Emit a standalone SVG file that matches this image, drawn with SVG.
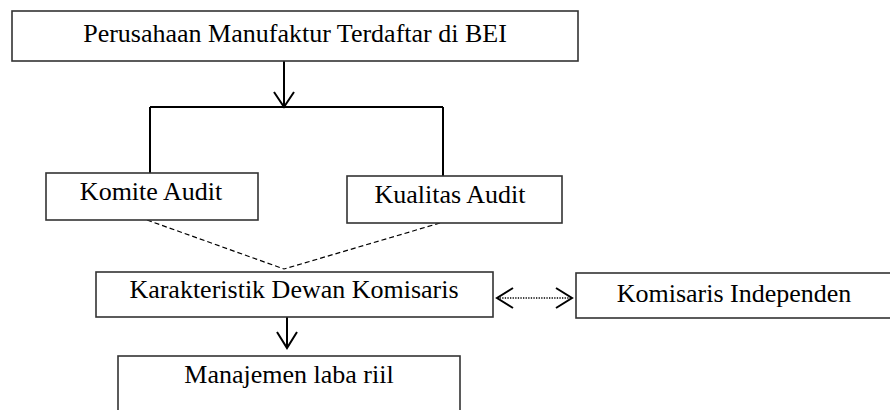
<svg xmlns="http://www.w3.org/2000/svg" width="890" height="410" viewBox="0 0 890 410">
<style>
.box{fill:#fff;stroke:#333;stroke-width:1.6}
.t{font-family:"Liberation Serif","Times New Roman",serif;font-size:26px;fill:#000;text-anchor:middle}
.ln{fill:none;stroke:#000;stroke-width:2}
.dash{fill:none;stroke:#000;stroke-width:1.2;stroke-dasharray:5,3}
.dot{fill:none;stroke:#000;stroke-width:1.3;stroke-dasharray:1.3,1.3}
</style>
<rect width="890" height="410" fill="#fff"/>
<g id="connectors">
<line class="ln" x1="284" y1="61" x2="284" y2="107"/>
<polyline class="ln" points="274,92 284,107 294,92"/>
<line class="ln" x1="150" y1="107" x2="443" y2="107"/>
<line class="ln" x1="150" y1="107" x2="150" y2="173"/>
<line class="ln" x1="443" y1="107" x2="443" y2="176"/>
<line class="dash" x1="147" y1="220" x2="284" y2="269"/>
<line class="dash" x1="440" y1="223" x2="284" y2="269"/>
<line class="ln" x1="287" y1="317" x2="287" y2="348"/>
<polyline class="ln" points="277,332 287,348 297,332"/>
<line class="dot" x1="497" y1="298" x2="572" y2="298"/>
<polyline class="ln" points="513,288 497,298 513,308"/>
<polyline class="ln" points="556,288 572,298 556,308"/>
</g>
<g id="node-perusahaan">
<rect class="box" x="12" y="11" width="566" height="50"/>
<text class="t" x="295" y="42">Perusahaan Manufaktur Terdaftar di BEI</text>
</g>
<g id="node-komite">
<rect class="box" x="46" y="173" width="212" height="47"/>
<text class="t" x="151" y="200">Komite Audit</text>
</g>
<g id="node-kualitas">
<rect class="box" x="347" y="176" width="215" height="47"/>
<text class="t" x="450" y="203">Kualitas Audit</text>
</g>
<g id="node-karakteristik">
<rect class="box" x="96" y="272" width="397" height="45"/>
<text class="t" x="294" y="298">Karakteristik Dewan Komisaris</text>
</g>
<g id="node-komisaris">
<rect class="box" x="576" y="273" width="330" height="45"/>
<text class="t" x="734" y="302">Komisaris Independen</text>
</g>
<g id="node-manajemen">
<rect class="box" x="118" y="356" width="342" height="70"/>
<text class="t" x="289" y="383">Manajemen laba riil</text>
</g>
</svg>
